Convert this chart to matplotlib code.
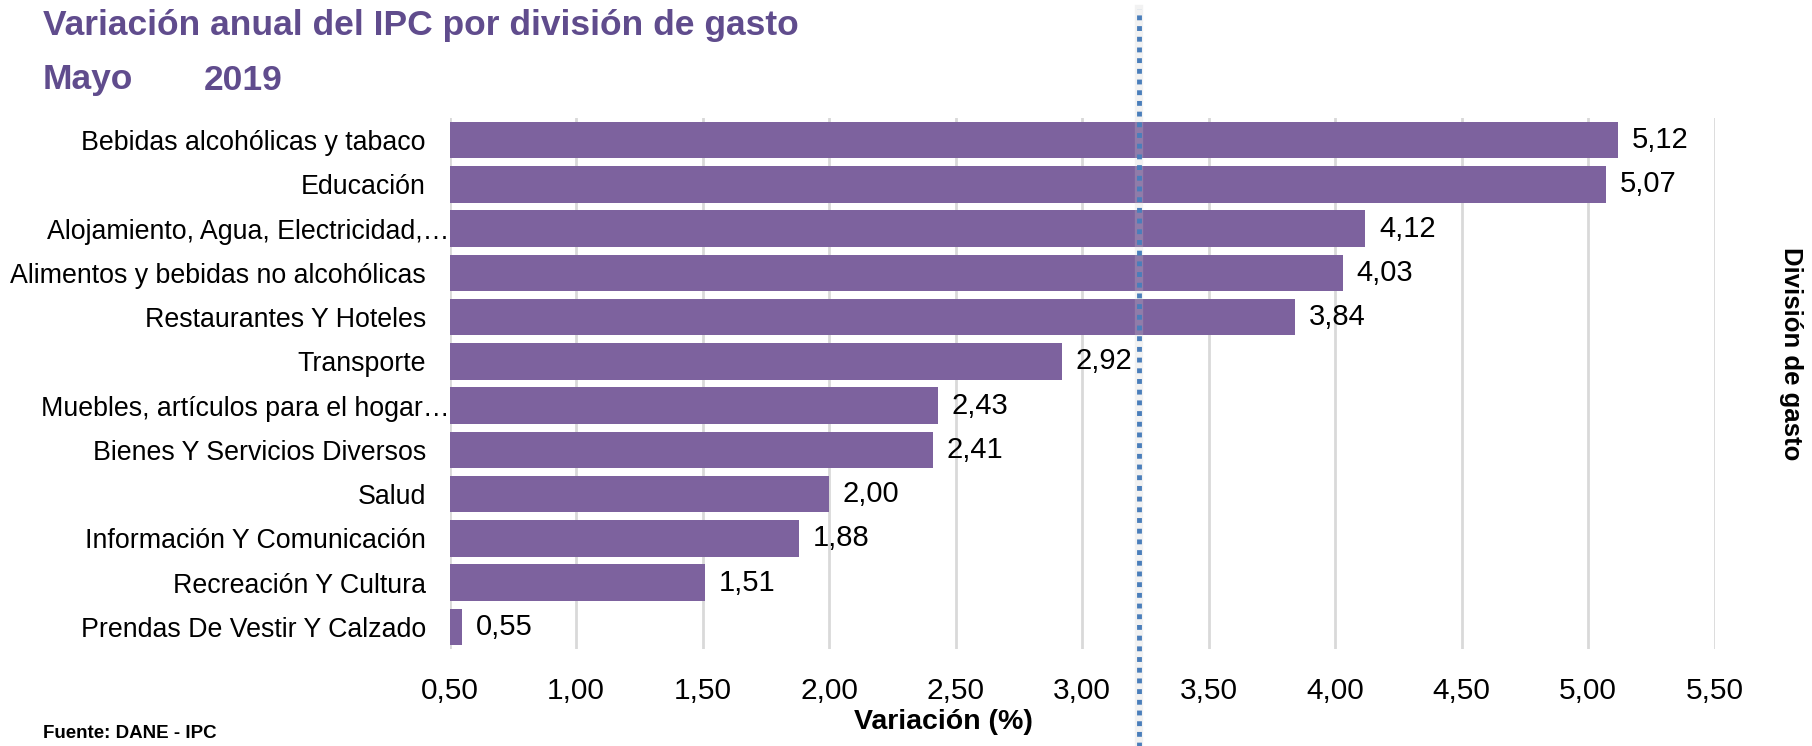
import matplotlib
matplotlib.use('Agg')
import matplotlib.pyplot as plt
import matplotlib.transforms as mtransforms
import numpy as np

plt.rcParams['font.family'] = ['Liberation Sans', 'DejaVu Sans']

# Data (top to bottom)
categorias = ['Bebidas alcohólicas y tabaco', 'Educación',
              'Alojamiento, Agua, Electricidad,…',
              'Alimentos y bebidas no alcohólicas', 'Restaurantes Y Hoteles',
              'Transporte', 'Muebles, artículos para el hogar…',
              'Bienes Y Servicios Diversos', 'Salud',
              'Información Y Comunicación', 'Recreación Y Cultura',
              'Prendas De Vestir Y Calzado']
variacion = [5.12, 5.07, 4.12, 4.03, 3.84, 2.92, 2.43, 2.41, 2.00, 1.88, 1.51, 0.55]
truncadas = ['Alojamiento, Agua, Electricidad,…', 'Muebles, artículos para el hogar…']
x_ticks = [0.5, 1.0, 1.5, 2.0, 2.5, 3.0, 3.5, 4.0, 4.5, 5.0, 5.5]
linea_ref = 3.225

bar_color = '#7D629E'
title_color = '#604C8D'

W, H = 1812, 746
fig = plt.figure(figsize=(W / 100, H / 100), dpi=100)
ax = fig.add_axes([449.5 / W, 1 - 649 / H, 1265 / W, 531 / H])

y = np.arange(len(categorias))
ax.barh(y, variacion, height=0.82, color=bar_color, zorder=2)
ax.set_ylim(len(categorias) - 0.5, -0.5)
ax.set_xlim(0.5, 5.5)

ax.set_xticks(x_ticks)
ax.set_xticklabels([f'{v:.2f}'.replace('.', ',') for v in x_ticks], fontsize=21.5)
ax.set_yticks(y)
ax.set_yticklabels(categorias, fontsize=19.3)
ax.tick_params(axis='x', length=0, pad=20)
ax.tick_params(axis='y', length=0, pad=17)
for lab in ax.get_yticklabels():
    if lab.get_text() in truncadas:
        lab.set_transform(lab.get_transform() +
                          mtransforms.ScaledTranslation(17 / 72, 0, fig.dpi_scale_trans))

ax.grid(axis='x', color='#D9D9D9', linewidth=2, zorder=0)
for s in ax.spines.values():
    s.set_visible(False)

for yi, v in zip(y, variacion):
    ax.annotate(f'{v:.2f}'.replace('.', ','), (v, yi), xytext=(10, 0),
                textcoords='offset points', va='center', ha='left', fontsize=21)

# reference dotted line
trans = mtransforms.blended_transform_factory(ax.transData, ax.transAxes)
ax.plot([linea_ref, linea_ref], [-0.19, 1.205], transform=trans, clip_on=False,
        color='#CCCCCC', alpha=0.25, linewidth=6, zorder=3)
ax.plot([linea_ref, linea_ref], [-0.19, 1.205], transform=trans, clip_on=False,
        color='#4A7EBB', linewidth=3.5, linestyle=(0, (1, 1.2)), zorder=4)

fig.text(43 / W, 1 - 26 / H, 'Variación anual del IPC por división de gasto',
         fontsize=25.5, fontweight='bold', color=title_color, va='center', ha='left')
fig.text(43 / W, 1 - 80 / H, 'Mayo', fontsize=25.5, fontweight='bold',
         color=title_color, va='center', ha='left')
fig.text(204 / W, 1 - 80 / H, '2019', fontsize=25.5, fontweight='bold',
         color=title_color, va='center', ha='left')
fig.text(943 / W, 1 - 722 / H, 'Variación (%)', fontsize=20.5, fontweight='bold',
         va='center', ha='center')
fig.text(1791 / W, 1 - 354 / H, 'División de gasto', fontsize=18.5, fontweight='bold',
         rotation=270, va='center', ha='center')
fig.text(43 / W, 1 - 733 / H, 'Fuente: DANE - IPC', fontsize=13.5, fontweight='bold',
         va='center', ha='left')

fig.savefig('out.png', dpi=100)
